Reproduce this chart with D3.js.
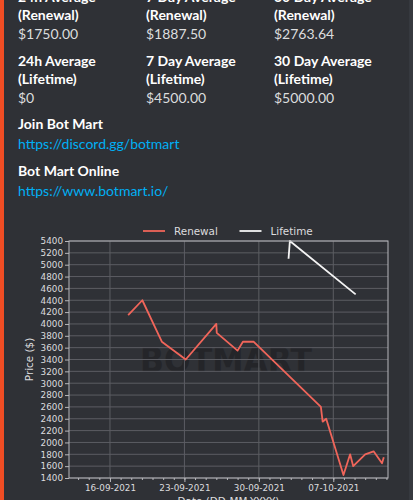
<!DOCTYPE html>
<html>
<head>
<meta charset="utf-8">
<script src="https://cdn.jsdelivr.net/npm/d3@7"></script>
<style>
  html, body { margin: 0; padding: 0; background: #36393f; overflow: hidden; }
  #embed { position: absolute; left: 0; top: 0; width: 409px; height: 500px; background: #2f3136; border-left: 4px solid #f04d24; box-sizing: border-box; }
  .txt { position: absolute; font-family: Lato, "Noto Sans", sans-serif; font-size: 14px; line-height: 18px; white-space: nowrap; }
  .name { color: #ffffff; font-weight: 700; }
  .value { color: #dcddde; }
  .link { color: #00aff4; }
  svg { position: absolute; left: 0; top: 0; }
</style>
</head>
<body>
<div id="embed"></div>
<svg id="chart" width="413" height="500"></svg>
<script>
// embed fields
var fieldNames = [
  ["24h Average", "(Renewal)"], ["7 Day Average", "(Renewal)"], ["30 Day Average", "(Renewal)"],
  ["24h Average", "(Lifetime)"], ["7 Day Average", "(Lifetime)"], ["30 Day Average", "(Lifetime)"]
];
var fieldValues = ["$1750.00", "$1887.50", "$2763.64", "$0", "$4500.00", "$5000.00"];
var links = [
  { name: "Join Bot Mart", url: "https://discord.gg/botmart" },
  { name: "Bot Mart Online", url: "https://www.botmart.io/" }
];

// chart data
var renewalDates = ["17-09-2021 17:00", "19-09-2021 01:00", "20-09-2021 21:00", "23-09-2021 03:00",
  "26-09-2021 00:00", "26-09-2021 01:00", "28-09-2021 00:00", "28-09-2021 12:00", "29-09-2021 12:00",
  "05-10-2021 20:00", "06-10-2021 00:00", "06-10-2021 08:00", "07-10-2021 23:00", "08-10-2021 14:00",
  "08-10-2021 21:00", "10-10-2021 00:00", "10-10-2021 19:00", "11-10-2021 14:00", "11-10-2021 18:00"];
var renewalPrices = [4150, 4400, 3700, 3400, 4000, 3850, 3550, 3700, 3700,
  2600, 2350, 2400, 1450, 1800, 1600, 1800, 1850, 1650, 1750];
var lifetimeDates = ["02-10-2021 19:00", "02-10-2021 22:00", "09-10-2021 02:30"];
var lifetimePrices = [5100, 5400, 4500];
var xRange = ["12-09-2021 03:30", "12-10-2021 03:30"];
var yRange = [1400, 5400];
var majorTicks = ["16-09-2021", "23-09-2021", "30-09-2021", "07-10-2021"];

var embed = d3.select("#embed");
var colX = [14, 142, 270];
fieldNames.forEach(function (n, i) {
  var row = Math.floor(i / 3), x = colX[i % 3];
  var top0 = row == 0 ? -12 : 52;
  embed.append("div").attr("class", "txt name").style("left", x + "px").style("top", top0 + "px").text(n[0]);
  embed.append("div").attr("class", "txt name").style("left", x + "px").style("top", (top0 + 18) + "px").text(n[1]);
  embed.append("div").attr("class", "txt value").style("left", x + "px").style("top", (top0 + 37) + "px").text(fieldValues[i]);
});
links.forEach(function (l, i) {
  var top0 = 115 + i * 46.5;
  embed.append("div").attr("class", "txt name").style("left", colX[0] + "px").style("top", top0 + "px").text(l.name);
  embed.append("div").attr("class", "txt link").style("left", colX[0] + "px").style("top", (top0 + 20) + "px").text(l.url);
});

var parse = d3.timeParse("%d-%m-%Y %H:%M");
var parseDay = d3.timeParse("%d-%m-%Y");
var svg = d3.select("#chart");
var pLeft = 69, pRight = 388, pTop = 241, pBottom = 478;

var x = d3.scaleTime().domain(xRange.map(parse)).range([pLeft, pRight]);
var y = d3.scaleLinear().domain(yRange).range([pBottom, pTop]);

var g = svg.append("g").style("font-family", "'DejaVu Sans', sans-serif");

// watermark
g.append("text").attr("x", 140).attr("y", 372)
  .attr("textLength", 172).attr("lengthAdjust", "spacingAndGlyphs")
  .style("font-size", "33px").style("font-weight", "bold").attr("fill", "#242529")
  .text("BOTMART");

// grid
var yTicks = d3.range(yRange[0], yRange[1] + 1, 200);
g.selectAll(".hgrid").data(yTicks).enter().append("line")
  .attr("x1", pLeft).attr("x2", pRight)
  .attr("y1", function (d) { return y(d); }).attr("y2", function (d) { return y(d); })
  .attr("stroke", "#5c5d63").attr("stroke-width", 1);
var majors = majorTicks.map(parseDay);
g.selectAll(".vgrid").data(majors).enter().append("line")
  .attr("y1", pTop).attr("y2", pBottom)
  .attr("x1", function (d) { return x(d); }).attr("x2", function (d) { return x(d); })
  .attr("stroke", "#5c5d63").attr("stroke-width", 1);

// lines
var line = d3.line().x(function (d) { return x(d[0]); }).y(function (d) { return y(d[1]); });
var renewal = renewalDates.map(function (d, i) { return [parse(d), renewalPrices[i]]; });
var lifetime = lifetimeDates.map(function (d, i) { return [parse(d), lifetimePrices[i]]; });

g.append("path").datum(renewal).attr("d", line).attr("fill", "none")
  .attr("stroke", "#f0655a").attr("stroke-width", 1.8).attr("stroke-linejoin", "round");
g.append("path").datum(lifetime).attr("d", line).attr("fill", "none")
  .attr("stroke", "#f4f4f4").attr("stroke-width", 1.8).attr("stroke-linejoin", "round");

// axes
var yAxis = d3.axisLeft(y).tickValues(yTicks).tickSize(4).tickPadding(2).tickFormat(d3.format("d"));
g.append("g").attr("transform", "translate(" + pLeft + ",0)").call(yAxis);
var xMinor = d3.axisBottom(x).ticks(d3.timeDay.every(1)).tickSize(2).tickFormat("");
g.append("g").attr("transform", "translate(0," + pBottom + ")").call(xMinor);
var xAxis = d3.axisBottom(x).tickValues(majors).tickSize(4).tickPadding(3).tickFormat(d3.timeFormat("%d-%m-%Y"));
g.append("g").attr("transform", "translate(0," + pBottom + ")").call(xAxis);
g.selectAll(".domain").remove();
g.selectAll(".tick line").attr("stroke", "#b8b8bc");
g.selectAll(".tick text").attr("fill", "#dcdcde").style("font-size", "8.8px").style("font-family", "'DejaVu Sans', sans-serif");

g.append("rect").attr("x", pLeft).attr("y", pTop).attr("width", pRight - pLeft).attr("height", pBottom - pTop)
  .attr("fill", "none").attr("stroke", "#b8b8bc").attr("stroke-width", 1);

// axis labels
g.append("text").attr("transform", "translate(33," + ((pTop + pBottom) / 2) + ") rotate(-90)")
  .attr("text-anchor", "middle").attr("fill", "#dcdcde").style("font-size", "10.4px").text("Price ($)");
g.append("text").attr("x", (pLeft + pRight) / 2).attr("y", 505)
  .attr("text-anchor", "middle").attr("fill", "#dcdcde").style("font-size", "10.4px").text("Date (DD-MM-YYYY)");

// legend
var legendItems = [
  { label: "Renewal", color: "#f0655a", x: 143 },
  { label: "Lifetime", color: "#f4f4f4", x: 239.5 }
];
var lg = g.selectAll(".legend").data(legendItems).enter().append("g");
lg.append("line").attr("x1", function (d) { return d.x; }).attr("x2", function (d) { return d.x + 22; })
  .attr("y1", 231).attr("y2", 231).attr("stroke", function (d) { return d.color; }).attr("stroke-width", 1.8);
lg.append("text").attr("x", function (d) { return d.x + 31; }).attr("y", 234.8)
  .attr("fill", "#dcdcde").style("font-size", "10.4px").text(function (d) { return d.label; });
</script>
</body>
</html>
